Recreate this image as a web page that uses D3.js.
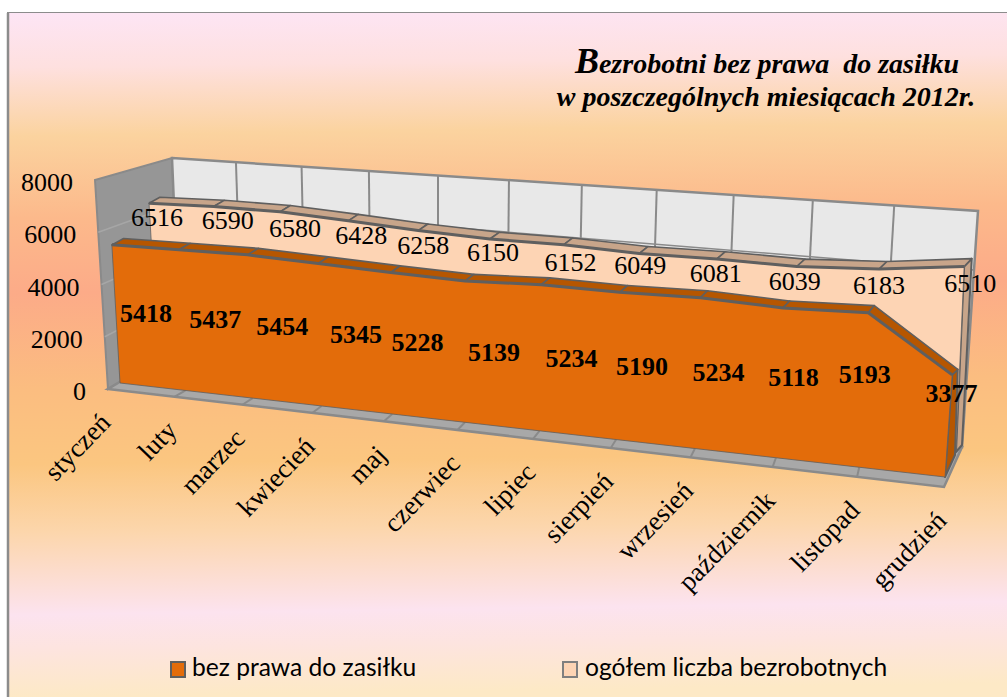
<!DOCTYPE html>
<html><head><meta charset="utf-8">
<script src="https://cdn.jsdelivr.net/npm/d3@7"></script>
<style>html,body{margin:0;padding:0;background:#fff}svg{display:block}</style></head>
<body><svg id="c" width="1007" height="697"></svg>
<script>
const categories=["styczeń","luty","marzec","kwiecień","maj","czerwiec","lipiec","sierpień","wrzesień","październik","listopad","grudzień"];
const bezPrawa=[5418,5437,5454,5345,5228,5139,5234,5190,5234,5118,5193,3377];
const ogolem=[6516,6590,6580,6428,6258,6150,6152,6049,6081,6039,6183,6510];
const yTicks=[0,2000,4000,6000,8000];
const seriesNames=["bez prawa do zasiłku","ogółem liczba bezrobotnych"];

// label displacement from the anchor on the chart (pixels)
const frontNudge=[[30,-1],[33,-1],[32,0],[36,-1],[26,-1],[29,0],[31,0],[24,0],[21,-1],[14,-6],[1,-16],[3,-33]];
const backNudge=[[8,14],[14,14],[15,16],[13,14],[5,14],[3,13],[7,17],[1,11],[-1,14],[-2,14],[0,16],[6,17]];

// pseudo-3D planes: [bottom-left, bottom-right, top-left, top-right] at axis max
const planes={
  outer:[[108,389],[944,487],[95,180],[965,238]],
  s1F:[[120,383],[945,477],[108,179],[962,235]],
  s1B:[[129,378],[951,475],[121,172],[967,225]],
  s1Foot:[[129,378],[955,455],[121,172],[967,225]],
  s2F:[[158,358],[956,452],[147,168],[966,224]],
  s2B:[[168,352],[962,445],[158,162],[974,216]],
  wall:[[180,346],[962,447],[172,158],[978,211]]
};
const K=1.16;
const uScale=d3.scalePoint().domain(categories).range([0,1]);
const vScale=d3.scaleLinear().domain([0,8000]).range([0,1]);
function P(pl,cat,val){
  const u=uScale(cat), s=u/(u+K*(1-u)), f=vScale(val), q=planes[pl];
  const bx=q[0][0]+(q[1][0]-q[0][0])*s, by=q[0][1]+(q[1][1]-q[0][1])*s;
  const tx=q[2][0]+(q[3][0]-q[2][0])*s, ty=q[2][1]+(q[3][1]-q[2][1])*s;
  return [bx+(tx-bx)*f, by+(ty-by)*f];
}
const n=categories.length, first=categories[0], last=categories[n-1];
const svg=d3.select("#c");
const defs=svg.append("defs");
const g=defs.append("linearGradient").attr("id","bg").attr("x1",0).attr("y1",0).attr("x2",0.02).attr("y2",1);
[[0,"#fde5f5"],[0.08,"#fee0df"],[0.18,"#fbd39f"],[0.30,"#fcb98b"],[0.41,"#fcab88"],[0.55,"#fbbd80"],[0.66,"#fbc680"],[0.76,"#fcd6ac"],[0.88,"#fce3ef"],[0.93,"#fde4df"],[1,"#fde9c6"]]
  .forEach(d=>g.append("stop").attr("offset",d[0]).attr("stop-color",d[1]));
svg.append("rect").attr("x",8).attr("y",13).attr("width",999).attr("height",684).attr("fill","url(#bg)");
svg.append("path").attr("d","M8,697V13").attr("fill","none").attr("stroke","#8c8c8c").attr("stroke-width",2.5);
svg.append("path").attr("d","M7,12.5H1007").attr("fill","none").attr("stroke","#8c8c8c").attr("stroke-width",1);

const poly=pts=>"M"+pts.map(p=>p.join(",")).join("L")+"Z";
const line=pts=>"M"+pts.map(p=>p.join(",")).join("L");
const grey="#8a8a8a", dark="#5f5f5f";

// left wall
svg.append("path").attr("d",poly([P("outer",first,8000),P("outer",first,0),P("wall",first,0),P("wall",first,8000)]))
  .attr("fill","#969696").attr("stroke",grey).attr("stroke-width",2);
yTicks.slice(1,-1).forEach(v=>svg.append("path").attr("d",line([P("outer",first,v),P("wall",first,v)])).attr("stroke","#a6a6a6").attr("stroke-width",1.5).attr("fill","none"));
// back wall
svg.append("path").attr("d",poly([P("wall",first,8000),P("wall",last,8000),P("wall",last,0),P("wall",first,0)]))
  .attr("fill","#e8e8e8").attr("stroke",grey).attr("stroke-width",2.5);
categories.slice(1,-1).forEach(c=>svg.append("path").attr("d",line([P("wall",c,8000),P("wall",c,0)])).attr("stroke",grey).attr("stroke-width",2).attr("fill","none"));
yTicks.slice(1,-1).forEach(v=>svg.append("path").attr("d",line([P("wall",first,v),P("wall",last,v)])).attr("stroke",grey).attr("stroke-width",1.5).attr("fill","none"));
// floor
svg.append("path").attr("d",poly([P("outer",first,0),P("outer",last,0),P("wall",last,0),P("wall",first,0)]))
  .attr("fill","#a8a8a8").attr("stroke",grey).attr("stroke-width",2.5);
categories.slice(1,-1).forEach(c=>svg.append("path").attr("d",line([P("outer",c,0),P("s1F",c,0)])).attr("stroke",grey).attr("stroke-width",2).attr("fill","none"));

function drawSeries(vals,F,B,Foot,faceCol,topCol,sideCol){
  // side at the last category
  svg.append("path").attr("d",poly([P(F,last,vals[n-1]),P(B,last,vals[n-1]),P(Foot,last,0),P(F,last,0)]))
    .attr("fill",sideCol).attr("stroke",dark).attr("stroke-width",2).attr("stroke-linejoin","round");
  // top faces
  d3.pairs(d3.range(n)).forEach(([a,b])=>{
    svg.append("path").attr("d",poly([P(F,categories[a],vals[a]),P(F,categories[b],vals[b]),P(B,categories[b],vals[b]),P(B,categories[a],vals[a])]))
      .attr("fill",topCol).attr("stroke",dark).attr("stroke-width",1.6).attr("stroke-linejoin","round");
  });
  // front face
  const up=categories.map((c,i)=>P(F,c,vals[i]));
  const down=[P(F,last,0),P(F,first,0)];
  svg.append("path").attr("d",poly(up.concat(down))).attr("fill",faceCol).attr("stroke",dark).attr("stroke-width",0.8).attr("stroke-linejoin","round");
  svg.append("path").attr("d",line(up)).attr("fill","none").attr("stroke",dark).attr("stroke-width",3).attr("stroke-linejoin","round");
}
drawSeries(ogolem,"s2F","s2B","s2B","#fdd4b4","#c8a58a","#c8a58a");
drawSeries(bezPrawa,"s1F","s1B","s1Foot","#e36c0a","#b65600","#b65600");

const serif="'Liberation Serif','Times New Roman',serif";
// axis labels
yTicks.forEach(v=>{const p=P("outer",first,v);
  svg.append("text").attr("x",p[0]-22).attr("y",p[1]+11).attr("text-anchor","end").attr("font-family",serif).attr("font-size",26).text(v);});
// category labels
categories.forEach(c=>{const p=P("outer",c,0);
  svg.append("text").attr("transform",`translate(${p[0]+4},${p[1]+35}) rotate(-46)`).attr("text-anchor","end").attr("font-family",serif).attr("font-size",27).attr("fill","#000").text(c);});
// data labels (bold front, regular back)
categories.forEach((c,i)=>{
  const p=P("s2F",c,ogolem[i]);
  svg.append("text").attr("x",p[0]+backNudge[i][0]).attr("y",p[1]+backNudge[i][1]+9).attr("text-anchor","middle").attr("font-family",serif).attr("font-size",26).text(ogolem[i]);
});
categories.forEach((c,i)=>{
  const p=P("s1F",c,bezPrawa[i]/2);
  svg.append("text").attr("x",p[0]+frontNudge[i][0]).attr("y",p[1]+frontNudge[i][1]+9).attr("text-anchor","middle").attr("font-family",serif).attr("font-size",26).attr("font-weight","bold").text(bezPrawa[i]);
});
// title
const t=svg.append("g").attr("font-family",serif).attr("font-weight","bold").attr("font-style","italic").attr("fill","#000").attr("text-anchor","middle");
const t1=t.append("text").attr("x",767).attr("y",73).attr("font-size",28);
t1.append("tspan").attr("font-size",36).text("B");
t1.append("tspan").style("white-space","pre").text("ezrobotni bez prawa  do zasiłku");
t.append("text").attr("x",766).attr("y",106).attr("font-size",28).text("w poszczególnych miesiącach 2012r.");
// legend
[[171,192,"#e36c0a"],[563,585,"#fdd4b4"]].forEach((d,i)=>{
  svg.append("rect").attr("x",d[0]).attr("y",662).attr("width",14).attr("height",15).attr("fill",d[2]).attr("stroke",i?"#7f7f7f":dark).attr("stroke-width",2);
  svg.append("text").attr("x",d[1]).attr("y",676).attr("font-family","Lato,Carlito,sans-serif").attr("font-size",24.6).attr("fill","#000").text(seriesNames[i]);
});
</script></body></html>
